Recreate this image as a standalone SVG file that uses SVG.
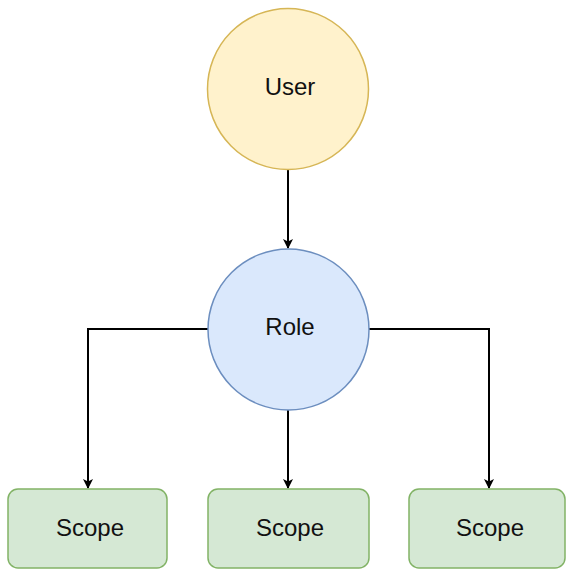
<svg xmlns="http://www.w3.org/2000/svg" width="566" height="570" viewBox="0 0 566 570">
<defs>
<marker id="arr" markerWidth="10" markerHeight="12" refX="9" refY="5" orient="auto" markerUnits="userSpaceOnUse" viewBox="0 0 10 10">
<path d="M0,0 L10,5 L0,10 L2.5,5 Z" fill="#000"/>
</marker>
<style>
.lbl{font-family:"Liberation Sans",Arial,sans-serif;font-size:24px;fill:#111;text-anchor:middle;dominant-baseline:central}
.conn{fill:none;stroke:#000;stroke-width:2;marker-end:url(#arr)}
.scope{fill:#d5e8d4;stroke:#82b366;stroke-width:1.5}
</style>
</defs>
<rect width="566" height="570" fill="#fff"/>
<g id="connectors">
<path class="conn" d="M288,170 L288,248"/>
<path class="conn" d="M208,329 L88,329 L88,488"/>
<path class="conn" d="M288,410 L288,488"/>
<path class="conn" d="M369,329 L489,329 L489,488"/>
</g>
<g id="user">
<circle cx="288" cy="89" r="80.5" fill="#fff2cc" stroke="#d6b656" stroke-width="1.5"/>
<text class="lbl" x="290" y="86">User</text>
</g>
<g id="role">
<circle cx="288.5" cy="329.5" r="80.5" fill="#dae8fc" stroke="#6c8ebf" stroke-width="1.5"/>
<text class="lbl" x="290" y="326">Role</text>
</g>
<g id="scope1">
<rect class="scope" x="8" y="489" width="159" height="79" rx="10"/>
<text class="lbl" x="90" y="527">Scope</text>
</g>
<g id="scope2">
<rect class="scope" x="208" y="489" width="161" height="79" rx="10"/>
<text class="lbl" x="290" y="527">Scope</text>
</g>
<g id="scope3">
<rect class="scope" x="409" y="489" width="156" height="79" rx="10"/>
<text class="lbl" x="490" y="527">Scope</text>
</g>
</svg>
